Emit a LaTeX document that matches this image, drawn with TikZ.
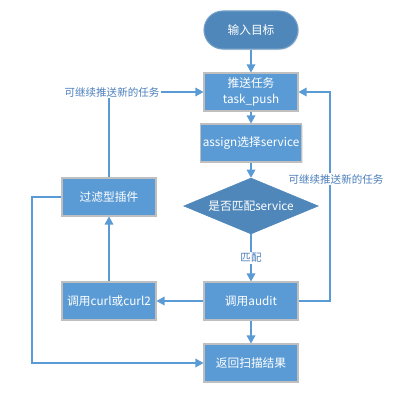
\documentclass[tikz,border=0pt]{standalone}
\usepackage{fontspec}
\setmainfont{Noto Sans CJK SC}
\usetikzlibrary{positioning,arrows.meta,shapes.geometric,shadows}
\definecolor{boxblue}{HTML}{5B9BD5}
\definecolor{deepblue}{HTML}{4F87BA}
\definecolor{rimgray}{HTML}{BFBFBF}
\definecolor{noteblue}{HTML}{4A7EBB}
\tikzset{
  proc/.style    = {rectangle, draw=rimgray, fill=boxblue, line width=0.8pt, text=white,
                    minimum width=70.5pt, minimum height=28.5pt, inner sep=2pt, align=center,
                    font=\fontsize{8.8pt}{12pt}\selectfont,
                    drop shadow={opacity=0.18, shadow xshift=0.8pt, shadow yshift=-0.8pt}},
  term/.style    = {proc, draw=deepblue!80, fill=deepblue, rounded corners=14.25pt},
  decide/.style  = {diamond, draw=deepblue, fill=deepblue, text=white, aspect=2.4, inner sep=0pt,
                    minimum width=101pt, minimum height=42pt,
                    font=\fontsize{8.8pt}{12pt}\selectfont},
  flow/.style    = {-{Triangle[length=6pt, width=6.5pt]}, line width=0.9pt, draw=boxblue},
  link/.style    = {line width=0.9pt, draw=boxblue},
  note/.style    = {font=\fontsize{7.9pt}{10pt}\selectfont, text=noteblue, inner sep=1pt},
}
\begin{document}
\begin{tikzpicture}[x=0.75pt, y=0.75pt]
  \useasboundingbox (0,0) rectangle (420,-410);

  % main column
  \node[term]   (start)  at (251,-30)  {输入目标};
  \node[proc]   (push)   at (251,-92)  {推送任务\\task\_push};
  \node[proc]   (assign) at (251,-143) {assign选择service};
  \node[decide] (match)  at (251,-206) {是否匹配service};
  \node[proc]   (audit)  at (251,-301) {调用audit};
  \node[proc]   (ret)    at (251,-363) {返回扫描结果};

  % left column
  \node[proc]   (curl)   at (109,-301) {调用curl或curl2};
  \node[proc]   (filter) at (109,-197) {过滤型插件};
  \node[note]   (lnote)  at (112,-92)  {可继续推送新的任务};

  \coordinate (rbend) at (330,-92);
  \coordinate (lbend) at (32,-363);

  \draw[flow] (start) -- (push);
  \draw[flow] (push) -- (assign);
  \draw[flow] (assign) -- (match);
  \draw[flow] (match) -- node[note, fill=white] (mnote) {匹配} (audit);
  \draw[flow] (audit) -- (ret);
  \draw[flow] (audit) -- (curl);
  \draw[flow] (curl) -- (filter);

  % loops back to the task queue
  \draw[flow] (audit.east) -| (rbend) -- (push.east);
  \node[note, fill=white] (rnote) at (336,-179) {可继续推送新的任务};
  \draw[link] (filter.north) -- (filter.north |- lnote.south);
  \draw[flow] (lnote.east) -- (push.west);
  \draw[flow] (filter.west) -| (lbend) -- (ret.west);
\end{tikzpicture}
\end{document}
